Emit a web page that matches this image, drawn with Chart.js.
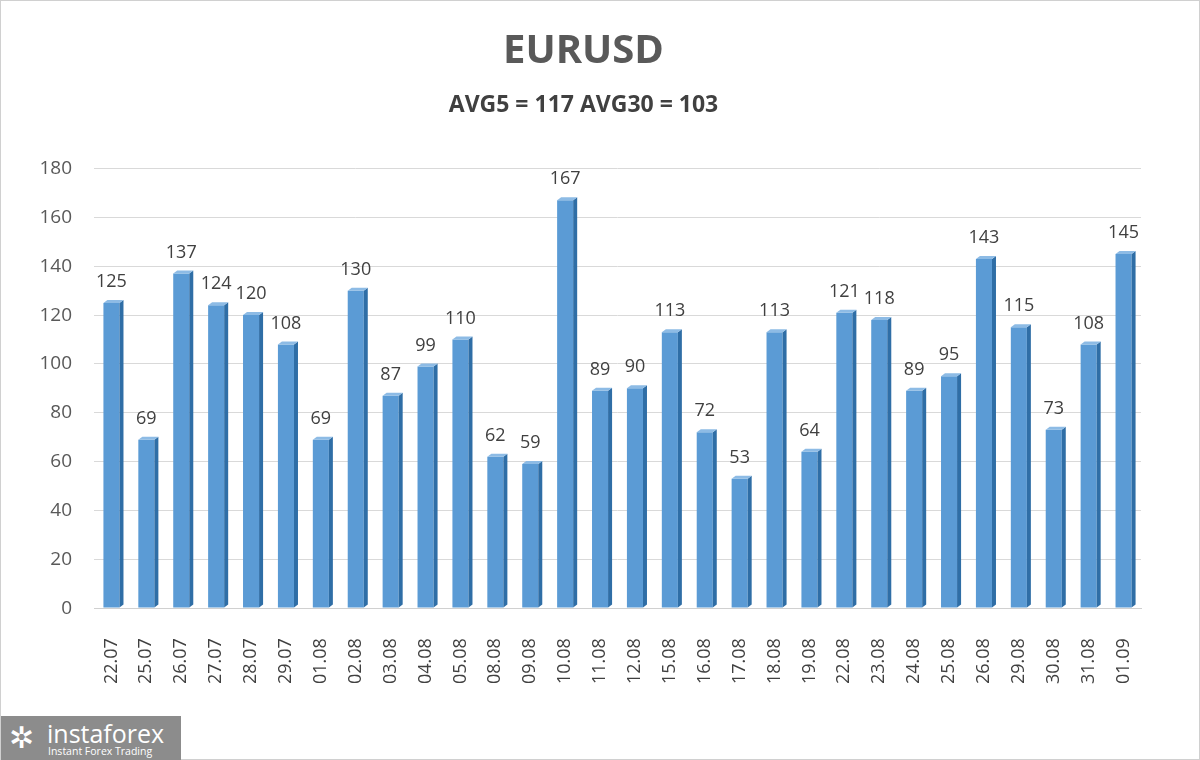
<!DOCTYPE html>
<html>
<head>
<meta charset="utf-8">
<script src="https://cdn.jsdelivr.net/npm/chart.js@4.4.1/dist/chart.umd.min.js"></script>
<style>
  html, body { margin:0; padding:0; background:#fff; }
  #wrap { position:relative; width:1200px; height:760px; box-sizing:border-box; border:1px solid #d0d0d0; }
  #logo { position:absolute; left:0; top:715px; width:180px; height:45px; background:#8c8c8c; color:#fff; font-family:"Open Sans", sans-serif; overflow:hidden; }
  #logo .big { position:absolute; left:46px; top:0px; font-size:25px; line-height:34px; }
  #logo .small { position:absolute; left:47px; top:29px; font-size:10.5px; line-height:13px; }
  #logo .gear { position:absolute; left:8px; top:5px; font-size:30px; line-height:32px; }
</style>
</head>
<body>
<div id="wrap">
<canvas id="myBarChart" width="1198" height="758"></canvas>
<div id="logo"><span class="gear">✲</span><span class="big">instaforex</span><span class="small">Instant Forex Trading</span></div>
</div>
<script>
var labels = ["22.07","25.07","26.07","27.07","28.07","29.07","01.08","02.08","03.08","04.08","05.08","08.08","09.08","10.08","11.08","12.08","15.08","16.08","17.08","18.08","19.08","22.08","23.08","24.08","25.08","26.08","29.08","30.08","31.08","01.09"];
var values = [125,69,137,124,120,108,69,130,87,99,110,62,59,167,89,90,113,72,53,113,64,121,118,89,95,143,115,73,108,145];
var yTicks = [0,20,40,60,80,100,120,140,160,180];

// 3D-ish bars + value labels
var barLook = {
  id: "barLook",
  afterDatasetsDraw: function(chart){
    var c = chart.ctx;
    var meta = chart.getDatasetMeta(0);
    meta.data.forEach(function(bar, i){
      var w = bar.width, x0 = bar.x - w/2, x1 = bar.x + w/2, top = bar.y, bot = bar.base;
      // right side face
      c.save();
      c.fillStyle = "#2f6ea6";
      c.beginPath();
      c.moveTo(x1, top); c.lineTo(x1+4, top-3); c.lineTo(x1+4, bot-3); c.lineTo(x1, bot);
      c.closePath(); c.fill();
      // top face
      c.fillStyle = "#8dbbe5";
      c.beginPath();
      c.moveTo(x0, top); c.lineTo(x0+4, top-3); c.lineTo(x1+4, top-3); c.lineTo(x1, top);
      c.closePath(); c.fill();
      // value
      c.fillStyle = "#404040";
      c.font = "18px 'Open Sans', sans-serif";
      c.textAlign = "center";
      c.textBaseline = "bottom";
      c.fillText(values[i], bar.x, top - 12);
      c.restore();
    });
  }
};

var ctx = document.getElementById("myBarChart");
var chart = new Chart(ctx, {
  type: "bar",
  data: {
    labels: labels,
    datasets: [{
      data: values,
      backgroundColor: function(context){
        var ch = context.chart, area = ch.chartArea;
        if (!area) return "#5b9bd5";
        var el = context.element;
        if (!el || !el.width) return "#5b9bd5";
        var gr = ch.ctx.createLinearGradient(el.x - el.width/2, 0, el.x + el.width/2, 0);
        gr.addColorStop(0, "#7fb0de");
        gr.addColorStop(0.5, "#5fa0da");
        gr.addColorStop(1, "#4a8ccb");
        return gr;
      },
      borderWidth: 0,
      barPercentage: 0.46,
      categoryPercentage: 1.0
    }]
  },
  plugins: [barLook],
  options: {
    responsive: false,
    animation: false,
    layout: { padding: { left: 25, right: 58, top: 14, bottom: 53 } },
    plugins: {
      legend: { display: false },
      tooltip: { enabled: false },
      title: {
        display: true,
        text: "EURUSD",
        color: "#595959",
        font: { family: "'Open Sans', sans-serif", size: 40, weight: "bold" },
        padding: { top: 13, bottom: 16 }
      },
      subtitle: {
        display: true,
        text: "AVG5 = 117 AVG30 = 103",
        color: "#404040",
        font: { family: "'Open Sans', sans-serif", size: 23, weight: "bold" },
        padding: { bottom: 49 }
      }
    },
    scales: {
      x: {
        grid: { display: false },
        border: { color: "#d0d0d0" },
        ticks: {
          color: "#404040",
          minRotation: 90, maxRotation: 90,
          padding: 22,
          font: { family: "'Open Sans', sans-serif", size: 18 }
        }
      },
      y: {
        min: 0, max: 180,
        afterBuildTicks: function(axis){ axis.ticks = yTicks.map(function(v){ return { value: v }; }); },
        afterFit: function(axis){ axis.width = 68; },
        grid: { color: "#d9d9d9", drawTicks: false },
        border: { display: false },
        ticks: {
          color: "#595959",
          padding: 22,
          font: { family: "'Open Sans', sans-serif", size: 19 }
        }
      }
    }
  }
});
</script>
</body>
</html>
